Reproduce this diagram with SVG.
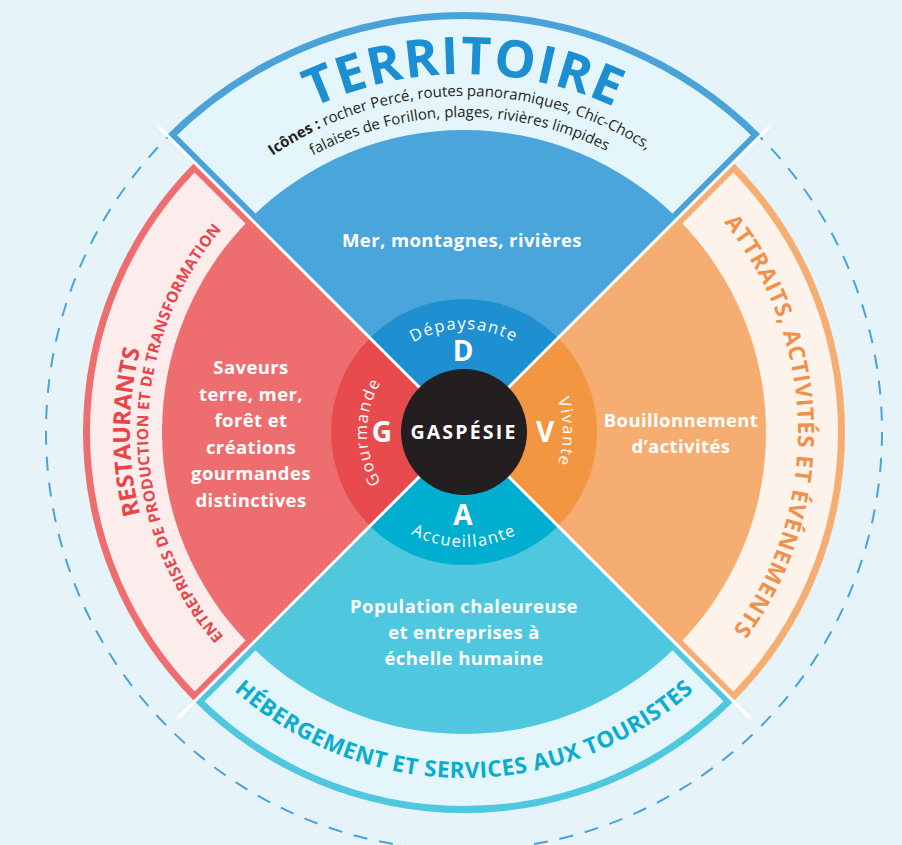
<svg xmlns="http://www.w3.org/2000/svg" xmlns:xlink="http://www.w3.org/1999/xlink" width="902" height="845" viewBox="0 0 902 845">
<style>
.t{font-family:"Open Sans","Liberation Sans",sans-serif;}
.w{fill:#fff;font-weight:700;font-size:18.5px;letter-spacing:0.4px;text-anchor:middle;}
.ring{fill:#fff;font-weight:400;font-size:16.5px;letter-spacing:1.5px;}
.big{fill:#fff;font-weight:700;font-size:28px;text-anchor:middle;}
.sep{stroke:#fff;stroke-width:3;fill:none;}
</style>
<defs>
<path id="bT" d="M464,432 L167.02,135.02 A420,420 0 0 1 760.98,135.02 Z"/>
<path id="bL" d="M464,432 L194.59,701.41 A381,381 0 0 1 194.59,162.59 Z"/>
<path id="bR" d="M464,432 L733.41,162.59 A381,381 0 0 1 733.41,701.41 Z"/>
<path id="bB" d="M464,432 L733.41,701.41 A381,381 0 0 1 194.59,701.41 Z"/>
<clipPath id="cT"><use xlink:href="#bT"/></clipPath>
<clipPath id="cL"><use xlink:href="#bL"/></clipPath>
<clipPath id="cR"><use xlink:href="#bR"/></clipPath>
<clipPath id="cB"><use xlink:href="#bB"/></clipPath>
<path id="pTer" d="M154,253 A358,358 0 0 1 774,253"/>
<path id="pL1" d="M227.8,668.2 A334,334 0 0 1 227.8,195.8"/>
<path id="pL2" d="M240.6,655.4 A316,316 0 0 1 240.6,208.6"/>
<path id="pR1" d="M700.2,195.8 A334,334 0 0 1 700.2,668.2"/>
<path id="pB1" d="M219.3,676.7 A346,346 0 0 0 708.7,676.7"/>
<path id="pD" d="M361,432 A103,103 0 0 1 567,432"/>
<path id="pG" d="M464,529 A97,97 0 0 1 464,335"/>
<path id="pV" d="M464,333 A99,99 0 0 1 464,531"/>
<path id="pA" d="M349,432 A115,115 0 0 0 579,432"/>
<path id="pI1" d="M128,432 A336,336 0 0 1 800,432"/>
<path id="pI2" d="M149,432 A315,315 0 0 1 779,432"/>
</defs>
<rect width="902" height="845" fill="#E6F3F9"/>
<circle cx="464" cy="432" r="418" fill="none" stroke="#4AA3D8" stroke-width="2" stroke-dasharray="14 12"/>

<g id="banner-territoire">
<use xlink:href="#bT" fill="#E4F5FB" stroke="#4AA3D8" stroke-width="14" clip-path="url(#cT)"/>
<text class="t" font-size="52" font-weight="700" fill="#1B8FD2" letter-spacing="1.5"><textPath xlink:href="#pTer" startOffset="50%" text-anchor="middle">TERRITOIRE</textPath></text>
<text class="t" font-size="15" fill="#231F20"><textPath xlink:href="#pI1" startOffset="49.5%" text-anchor="middle"><tspan font-weight="700">Icônes :</tspan> rocher Percé, routes panoramiques, Chic-Chocs,</textPath></text>
<text class="t" font-size="15" fill="#231F20"><textPath xlink:href="#pI2" startOffset="49.5%" text-anchor="middle">falaises de Forillon, plages, rivières limpides</textPath></text>
</g>

<g id="banner-restaurants">
<use xlink:href="#bL" fill="#FDECEC" stroke="#EE6E6F" stroke-width="14" clip-path="url(#cL)"/>
<text class="t" font-size="23.5" font-weight="700" fill="#E8454B"><textPath xlink:href="#pL1" startOffset="50%" text-anchor="middle">RESTAURANTS</textPath></text>
<text class="t" font-size="15.5" font-weight="700" fill="#E8454B" letter-spacing="0.3"><textPath xlink:href="#pL2" startOffset="49.7%" text-anchor="middle">ENTREPRISES DE PRODUCTION ET DE TRANSFORMATION</textPath></text>
</g>

<g id="banner-attraits">
<use xlink:href="#bR" fill="#FEF3EA" stroke="#F5AD71" stroke-width="14" clip-path="url(#cR)"/>
<text class="t" font-size="22.5" font-weight="700" fill="#F0904A" letter-spacing="0.8"><textPath xlink:href="#pR1" startOffset="48.7%" text-anchor="middle">ATTRAITS, ACTIVITÉS ET ÉVÉNEMENTS</textPath></text>
</g>

<g id="banner-hebergement">
<use xlink:href="#bB" fill="#E4F6FB" stroke="#4EC7DF" stroke-width="14" clip-path="url(#cB)"/>
<text class="t" font-size="22.5" font-weight="700" fill="#0AADCE" letter-spacing="0.5"><textPath xlink:href="#pB1" startOffset="50%" text-anchor="middle">HÉBERGEMENT ET SERVICES AUX TOURISTES</textPath></text>
</g>

<g id="wedge-territoire">
<path d="M464,432 L250.45,218.45 A302,302 0 0 1 677.55,218.45 Z" fill="#4AA5DA"/>
<text class="t w" x="462" y="247">Mer, montagnes, rivières</text>
</g>
<g id="wedge-gourmande">
<path d="M464,432 L250.45,645.55 A302,302 0 0 1 250.45,218.45 Z" fill="#EE6E6F"/>
<text class="t w"><tspan x="251" y="374">Saveurs</tspan><tspan x="251" y="400.5">terre, mer,</tspan><tspan x="251" y="427">forêt et</tspan><tspan x="251" y="453.5">créations</tspan><tspan x="251" y="480">gourmandes</tspan><tspan x="251" y="506.5">distinctives</tspan></text>
</g>
<g id="wedge-vivante">
<path d="M464,432 L677.55,218.45 A302,302 0 0 1 677.55,645.55 Z" fill="#F5AD71"/>
<text class="t w"><tspan x="681" y="427">Bouillonnement</tspan><tspan x="681" y="453">d’activités</tspan></text>
</g>
<g id="wedge-accueillante">
<path d="M464,432 L677.55,645.55 A302,302 0 0 1 250.45,645.55 Z" fill="#4EC7DF"/>
<text class="t w"><tspan x="464" y="613">Population chaleureuse</tspan><tspan x="464" y="639">et entreprises à</tspan><tspan x="464" y="665">échelle humaine</tspan></text>
</g>

<g id="ring-D">
<path d="M464,432 L369.95,337.95 A133,133 0 0 1 558.05,337.95 Z" fill="#1E8FD0"/>
<text class="t ring"><textPath xlink:href="#pD" startOffset="50%" text-anchor="middle">Dépaysante</textPath></text>
<text class="t big" x="463" y="361">D</text>
</g>
<g id="ring-G">
<path d="M464,432 L369.95,526.05 A133,133 0 0 1 369.95,337.95 Z" fill="#E84B4E"/>
<text class="t ring"><textPath xlink:href="#pG" startOffset="50%" text-anchor="middle">Gourmande</textPath></text>
<text class="t big" x="382" y="442">G</text>
</g>
<g id="ring-V">
<path d="M464,432 L558.05,337.95 A133,133 0 0 1 558.05,526.05 Z" fill="#F39642"/>
<text class="t ring"><textPath xlink:href="#pV" startOffset="50%" text-anchor="middle">Vivante</textPath></text>
<text class="t big" x="545" y="442">V</text>
</g>
<g id="ring-A">
<path d="M464,432 L558.05,526.05 A133,133 0 0 1 369.95,526.05 Z" fill="#00AFCF"/>
<text class="t ring" font-size="17.5" letter-spacing="1.6"><textPath xlink:href="#pA" startOffset="50%" text-anchor="middle">Accueillante</textPath></text>
<text class="t big" x="463" y="525">A</text>
</g>

<g id="connectors">
<line class="sep" x1="464" y1="432" x2="158.5" y2="126.5"/>
<line class="sep" x1="464" y1="432" x2="769.5" y2="126.5"/>
<line class="sep" x1="464" y1="432" x2="750.4" y2="718.4"/>
<line class="sep" x1="464" y1="432" x2="177.6" y2="718.4"/>
</g>

<g id="center-gaspesie">
<circle cx="464" cy="432" r="63" fill="#231F20"/>
<text class="t" x="464" y="439" font-size="19.5" font-weight="700" fill="#fff" text-anchor="middle" letter-spacing="2.2">GASPÉSIE</text>
</g>
</svg>
